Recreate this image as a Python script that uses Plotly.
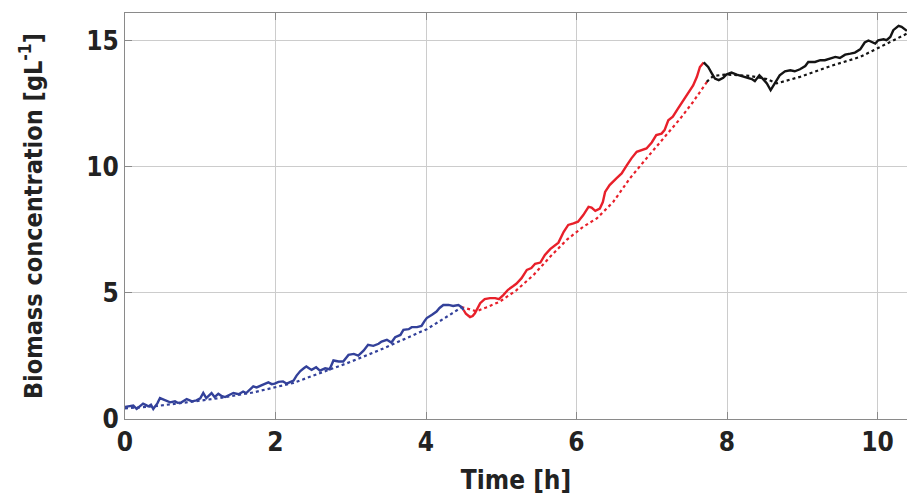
import plotly.graph_objects as go

# Measured biomass, phase 1 (batch) — time [h], concentration [g/L]
t_meas_1 = [0.00, 0.05, 0.11, 0.155, 0.20, 0.24, 0.28, 0.31, 0.345, 0.376, 0.40, 0.43, 0.465, 0.50,
            0.53, 0.565, 0.60, 0.664, 0.70, 0.75, 0.82, 0.86, 0.89, 0.95, 1.00, 1.04, 1.08, 1.15,
            1.19, 1.24, 1.28, 1.33, 1.38, 1.44, 1.51, 1.57, 1.61, 1.66, 1.705, 1.75, 1.79, 1.85,
            1.905, 1.95, 1.99, 2.04, 2.10, 2.15, 2.20, 2.24, 2.28, 2.33, 2.38, 2.41, 2.45, 2.48,
            2.54, 2.59, 2.66, 2.72, 2.77, 2.84, 2.90, 2.97, 3.04, 3.10, 3.17, 3.23, 3.30, 3.37,
            3.41, 3.48, 3.54, 3.59, 3.66, 3.70, 3.77, 3.81, 3.88, 3.94, 3.98, 4.01, 4.08, 4.14,
            4.18, 4.23, 4.30, 4.36, 4.43, 4.47, 4.50]
x_meas_1 = [0.48, 0.50, 0.53, 0.40, 0.52, 0.61, 0.55, 0.50, 0.57, 0.40, 0.50, 0.62, 0.83, 0.78,
            0.77, 0.70, 0.66, 0.70, 0.64, 0.66, 0.79, 0.74, 0.70, 0.74, 0.82, 1.03, 0.83, 1.03,
            0.87, 1.00, 0.92, 0.87, 0.95, 1.03, 0.98, 1.09, 1.03, 1.15, 1.29, 1.25, 1.29, 1.38,
            1.45, 1.38, 1.40, 1.47, 1.49, 1.40, 1.47, 1.52, 1.72, 1.90, 2.02, 2.08, 2.00, 1.95,
            2.05, 1.92, 2.01, 1.97, 2.32, 2.28, 2.28, 2.54, 2.58, 2.51, 2.71, 2.94, 2.90, 2.98,
            3.07, 3.14, 3.03, 3.24, 3.33, 3.53, 3.56, 3.64, 3.64, 3.69, 3.88, 4.00, 4.13, 4.26,
            4.40, 4.52, 4.52, 4.48, 4.52, 4.44, 4.32]

# Measured biomass, phase 2 (exponential feed)
t_meas_2 = [4.50, 4.53, 4.585, 4.62, 4.65, 4.69, 4.72, 4.78, 4.85, 4.92, 4.97, 5.03, 5.09, 5.16,
            5.20, 5.27, 5.34, 5.40, 5.45, 5.52, 5.58, 5.65, 5.72, 5.76, 5.83, 5.89, 5.96, 6.02,
            6.09, 6.16, 6.20, 6.25, 6.31, 6.35, 6.38, 6.44, 6.53, 6.60, 6.67, 6.73, 6.80, 6.87,
            6.93, 7.00, 7.06, 7.13, 7.17, 7.22, 7.28, 7.35, 7.42, 7.49, 7.55, 7.60, 7.64, 7.69]
x_meas_2 = [4.32, 4.17, 4.04, 4.08, 4.19, 4.42, 4.59, 4.75, 4.79, 4.79, 4.75, 4.92, 5.12, 5.27,
            5.36, 5.58, 5.91, 5.98, 6.15, 6.20, 6.50, 6.73, 6.90, 6.99, 7.42, 7.69, 7.75, 7.82,
            8.08, 8.41, 8.38, 8.25, 8.34, 8.60, 9.00, 9.27, 9.54, 9.73, 10.06, 10.33, 10.59, 10.65,
            10.72, 10.96, 11.25, 11.31, 11.45, 11.84, 11.98, 12.31, 12.64, 12.96, 13.22, 13.56, 13.95, 14.13]

# Measured biomass, phase 3 (constant feed)
t_meas_3 = [7.69, 7.75, 7.80, 7.84, 7.89, 7.95, 7.99, 8.06, 8.13, 8.19, 8.26, 8.33, 8.37, 8.43,
            8.48, 8.53, 8.58, 8.64, 8.70, 8.77, 8.84, 8.90, 8.97, 9.04, 9.08, 9.17, 9.24, 9.30,
            9.37, 9.44, 9.50, 9.57, 9.64, 9.70, 9.77, 9.83, 9.88, 9.92, 9.97, 10.01, 10.08, 10.12,
            10.17, 10.21, 10.28, 10.32, 10.37, 10.39]
x_meas_3 = [14.13, 13.95, 13.69, 13.49, 13.43, 13.52, 13.65, 13.73, 13.65, 13.60, 13.52, 13.47, 13.39, 13.62,
            13.47, 13.30, 13.03, 13.30, 13.62, 13.78, 13.82, 13.78, 13.86, 13.99, 14.15, 14.15, 14.22, 14.22,
            14.29, 14.35, 14.31, 14.44, 14.48, 14.52, 14.65, 14.92, 15.00, 14.96, 14.88, 15.01, 15.05, 15.01,
            15.14, 15.41, 15.58, 15.54, 15.41, 15.38]

# Model estimates for each phase
t_model_1 = [0.00, 0.38, 0.82, 1.26, 1.70, 2.00, 2.24, 2.50, 2.95, 3.39, 3.83, 4.01, 4.27, 4.47]
x_model_1 = [0.42, 0.50, 0.66, 0.83, 1.05, 1.25, 1.43, 1.72, 2.21, 2.74, 3.34, 3.56, 4.04, 4.42]

t_model_2 = [4.47, 4.52, 4.67, 4.80, 4.98, 5.20, 5.43, 5.65, 5.87, 6.09, 6.27, 6.49, 6.71, 6.93,
             7.15, 7.38, 7.55, 7.69, 7.75]
x_model_2 = [4.44, 4.39, 4.27, 4.42, 4.65, 5.10, 5.71, 6.43, 7.10, 7.62, 7.95, 8.61, 9.54, 10.33,
             11.12, 11.91, 12.57, 13.16, 13.43]

t_model_3 = [7.73, 7.82, 7.99, 8.30, 8.53, 8.66, 8.97, 9.41, 9.77, 10.03, 10.39]
x_model_3 = [13.36, 13.60, 13.65, 13.60, 13.47, 13.30, 13.56, 14.02, 14.35, 14.74, 15.27]

x_ticks = [0, 2, 4, 6, 8, 10]
y_ticks = [0, 5, 10, 15]

BLUE = "#33419a"
RED = "#e8202a"
BLACK = "#141414"

fig = go.Figure()
for t, x, c in [(t_model_1, x_model_1, BLUE), (t_model_2, x_model_2, RED), (t_model_3, x_model_3, BLACK)]:
    fig.add_trace(go.Scatter(x=t, y=x, mode="lines", line=dict(color=c, width=2.2, dash="dot"),
                             showlegend=False))
for t, x, c in [(t_meas_1, x_meas_1, BLUE), (t_meas_2, x_meas_2, RED), (t_meas_3, x_meas_3, BLACK)]:
    fig.add_trace(go.Scatter(x=t, y=x, mode="lines", line=dict(color=c, width=2.4),
                             showlegend=False))

FONT = "DejaVu Sans Condensed, Liberation Sans Narrow, sans-serif"
TXT = "#222222"
axis_common = dict(
    showgrid=True, gridcolor="#cccccc", gridwidth=1,
    showline=True, linecolor="#8a8a8a", linewidth=1.2,
    ticks="inside", ticklen=7, tickcolor="#8a8a8a",
    tickfont=dict(family=FONT, size=26, color=TXT, weight="bold"),
    zeroline=False,
)

fig.update_layout(
    width=907, height=500,
    margin=dict(l=125, r=0, t=13, b=81),
    paper_bgcolor="white", plot_bgcolor="white",
    font=dict(family=FONT, color=TXT),
    xaxis=dict(range=[0, 10.392], tickvals=x_ticks, mirror="ticks",
               title=dict(text="Time [h]", font=dict(family=FONT, size=26, color=TXT, weight="bold"),
                          standoff=14),
               **axis_common),
    yaxis=dict(range=[0, 16.09], tickvals=y_ticks,
               title=dict(text="Biomass concentration [gL<sup>-1</sup>]",
                          font=dict(family=FONT, size=25, color=TXT, weight="bold"), standoff=36),
               **axis_common),
)

fig.write_html("out.html")
